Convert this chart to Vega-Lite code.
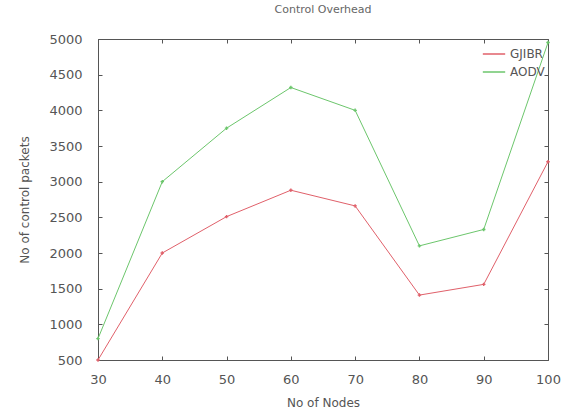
{
  "$schema": "https://vega.github.io/schema/vega-lite/v6.json",
  "width": 450,
  "height": 321,
  "autosize": "none",
  "padding": {"left": 98, "top": 39, "right": 14, "bottom": 49},
  "background": "white",
  "title": {"text": "Control Overhead", "fontSize": 11, "fontWeight": "normal", "color": "#666", "font": "DejaVu Sans", "offset": 18, "anchor": "middle"},
  "config": {
    "view": {"stroke": "#555", "strokeWidth": 1},
    "axis": {"labelFont": "DejaVu Sans", "titleFont": "DejaVu Sans", "labelColor": "#555", "titleColor": "#555", "labelFontSize": 13, "titleFontSize": 12, "titleFontWeight": "normal", "grid": false, "domainColor": "#555", "tickColor": "#555", "labelFlush": false}
  },
  "data": {"values": [
    {"nodes": 30, "packets": 500, "protocol": "GJIBR"},
    {"nodes": 40, "packets": 2000, "protocol": "GJIBR"},
    {"nodes": 50, "packets": 2510, "protocol": "GJIBR"},
    {"nodes": 60, "packets": 2880, "protocol": "GJIBR"},
    {"nodes": 70, "packets": 2660, "protocol": "GJIBR"},
    {"nodes": 80, "packets": 1410, "protocol": "GJIBR"},
    {"nodes": 90, "packets": 1560, "protocol": "GJIBR"},
    {"nodes": 100, "packets": 3280, "protocol": "GJIBR"},
    {"nodes": 30, "packets": 800, "protocol": "AODV"},
    {"nodes": 40, "packets": 3000, "protocol": "AODV"},
    {"nodes": 50, "packets": 3750, "protocol": "AODV"},
    {"nodes": 60, "packets": 4320, "protocol": "AODV"},
    {"nodes": 70, "packets": 4000, "protocol": "AODV"},
    {"nodes": 80, "packets": 2100, "protocol": "AODV"},
    {"nodes": 90, "packets": 2330, "protocol": "AODV"},
    {"nodes": 100, "packets": 4950, "protocol": "AODV"}
  ]},
  "layer": [
    {
      "mark": {"type": "line", "strokeWidth": 1, "point": {"shape": "cross", "size": 12, "filled": true}},
      "encoding": {
        "x": {"field": "nodes", "type": "quantitative", "scale": {"domain": [30, 100], "nice": false}, "axis": {"title": "No of Nodes", "values": [30, 40, 50, 60, 70, 80, 90, 100], "format": "d", "tickSize": -4, "labelPadding": 17, "titlePadding": 11, "domain": false}},
        "y": {"field": "packets", "type": "quantitative", "scale": {"domain": [500, 5000], "nice": false, "zero": false}, "axis": {"title": "No of control packets", "values": [500, 1000, 1500, 2000, 2500, 3000, 3500, 4000, 4500, 5000], "format": "d", "tickSize": -4, "labelPadding": 20, "titlePadding": 17, "domain": false}},
        "color": {"field": "protocol", "type": "nominal", "sort": ["GJIBR", "AODV"], "scale": {"domain": ["GJIBR", "AODV"], "range": ["#e0606a", "#6cc66c"]},
          "legend": {"title": null, "orient": "top-right", "symbolType": "stroke", "symbolStrokeWidth": 1.5, "labelFont": "DejaVu Sans", "labelFontSize": 12, "labelColor": "#555", "symbolSize": 500, "rowPadding": 0, "offset": 3}}
      }
    },
    {
      "mark": {"type": "rule", "opacity": 0},
      "encoding": {
        "x": {"field": "nodes", "type": "quantitative", "axis": {"orient": "top", "values": [30, 40, 50, 60, 70, 80, 90, 100], "tickSize": -4, "labels": false, "title": null, "domain": false}},
        "y": {"field": "packets", "type": "quantitative", "axis": {"orient": "right", "values": [500, 1000, 1500, 2000, 2500, 3000, 3500, 4000, 4500, 5000], "tickSize": -4, "labels": false, "title": null, "domain": false}}
      }
    }
  ],
  "resolve": {"axis": {"x": "independent", "y": "independent"}}
}
